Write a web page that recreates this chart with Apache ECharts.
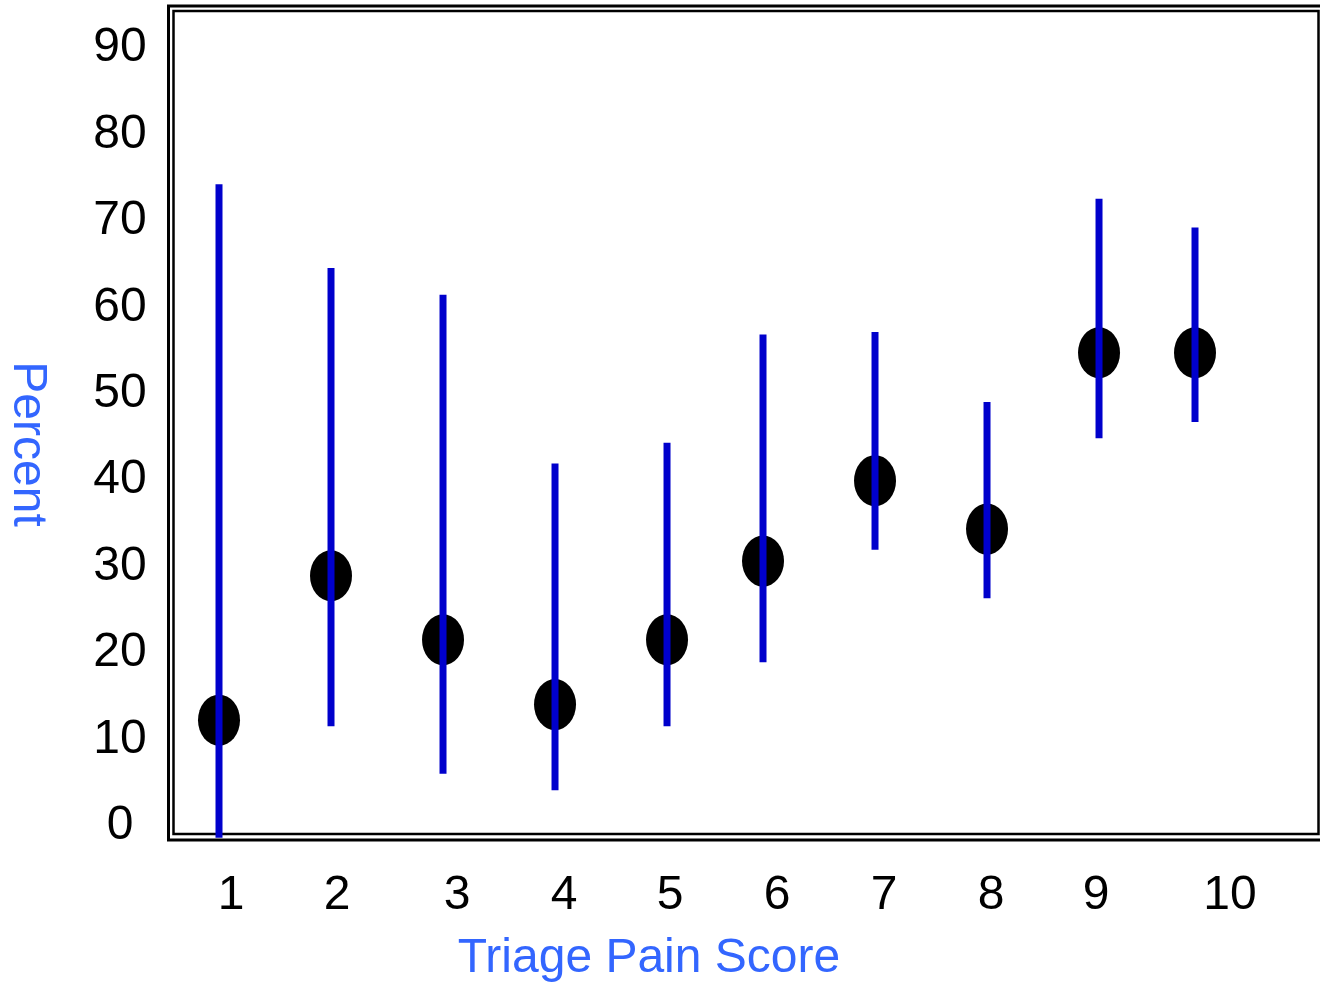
<!DOCTYPE html>
<html>
<head>
<meta charset="utf-8">
<script src="https://cdn.jsdelivr.net/npm/echarts@6/dist/echarts.min.js"></script>
<style>
  html, body { margin: 0; padding: 0; background: #fff; }
  #chart { width: 1320px; height: 983px; }
</style>
</head>
<body>
<div id="chart"></div>
<script>
// Triage pain score categories and their plotted x positions
const categories = ['1', '2', '3', '4', '5', '6', '7', '8', '9', '10'];
const xPos = [1, 2, 3, 4, 5, 5.857, 6.857, 7.857, 8.857, 9.714];
// Percent estimates and interval bounds
const pointValues = [11.9, 28.6, 21.2, 13.7, 21.2, 30.3, 39.6, 34.0, 54.4, 54.4];
const upperValues = [73.9, 64.2, 61.1, 41.6, 44.0, 56.5, 56.8, 48.7, 72.2, 68.9];
const lowerValues = [-1.7, 11.2, 5.7, 3.8, 11.2, 18.6, 31.6, 26.0, 44.5, 46.4];
// x tick labels and where they sit on the x scale
const xTickLabels = categories;
const xTickPos = [1.107, 2.054, 3.125, 4.080, 5.027, 5.982, 6.938, 7.893, 8.830, 10.027];
const yTicks = [0, 10, 20, 30, 40, 50, 60, 70, 80, 90];

const FONT = "'Liberation Sans', Arial, Helvetica, sans-serif";
const BLUE = '#0000CC';
const TITLE_BLUE = '#3366FF';

const chart = echarts.init(document.getElementById('chart'), null, { renderer: 'canvas' });

const points = xPos.map((x, i) => [x, pointValues[i]]);
const bars = xPos.map((x, i) => [x, lowerValues[i], upperValues[i]]);

const option = {
  backgroundColor: '#ffffff',
  animation: false,
  grid: { left: 107, right: 1, top: 45, bottom: 160, containLabel: false },
  xAxis: {
    type: 'value',
    min: 0,
    max: 10.821,
    axisLine: { show: false },
    axisTick: { show: false },
    splitLine: { show: false },
    axisLabel: {
      customValues: xTickPos,
      color: '#000',
      fontFamily: FONT,
      fontSize: 48,
      lineHeight: 48,
      margin: 49,
      formatter: function (v) {
        let best = 0, d = Infinity;
        xTickPos.forEach((p, i) => { if (Math.abs(p - v) < d) { d = Math.abs(p - v); best = i; } });
        return xTickLabels[best];
      }
    }
  },
  yAxis: {
    type: 'value',
    min: yTicks[0],
    max: yTicks[yTicks.length - 1],
    interval: 10,
    axisLine: { show: false },
    axisTick: { show: false },
    splitLine: { show: false },
    axisLabel: {
      color: '#000',
      fontFamily: FONT,
      fontSize: 48,
      align: 'center',
      verticalAlign: 'top',
      lineHeight: 6,
      margin: -13
    }
  },
  graphic: [
    { type: 'rect', z: 0, silent: true,
      shape: { x: 168.5, y: 6, width: 1200, height: 834 },
      style: { fill: null, stroke: '#000', lineWidth: 3 } },
    { type: 'rect', z: 0, silent: true,
      shape: { x: 173.5, y: 11, width: 1145, height: 823 },
      style: { fill: null, stroke: '#000', lineWidth: 2.5 } },
    { type: 'text', x: 27, y: 444, rotation: -Math.PI / 2, silent: true,
      style: { text: 'Percent', fill: TITLE_BLUE, font: '48px ' + FONT,
               textAlign: 'center', textVerticalAlign: 'middle' } },
    { type: 'text', x: 649, y: 959, silent: true,
      style: { text: 'Triage Pain Score', fill: TITLE_BLUE, font: '48px ' + FONT,
               textAlign: 'center', textVerticalAlign: 'middle' } }
  ],
  series: [
    {
      type: 'scatter',
      data: points,
      symbol: 'path://M0,0 a1,1 0 1,0 2,0 a1,1 0 1,0 -2,0 Z',
      symbolSize: [42, 51],
      itemStyle: { color: '#000', opacity: 1 },
      z: 3,
      clip: false
    },
    {
      type: 'custom',
      data: bars,
      z: 4,
      clip: false,
      renderItem: function (params, api) {
        const x = api.value(0);
        const lo = api.coord([x, api.value(1)]);
        const hi = api.coord([x, api.value(2)]);
        return {
          type: 'line',
          shape: { x1: lo[0], y1: lo[1], x2: hi[0], y2: hi[1] },
          style: { stroke: BLUE, lineWidth: 7, lineCap: 'butt' }
        };
      }
    }
  ]
};

chart.setOption(option);
</script>
</body>
</html>
